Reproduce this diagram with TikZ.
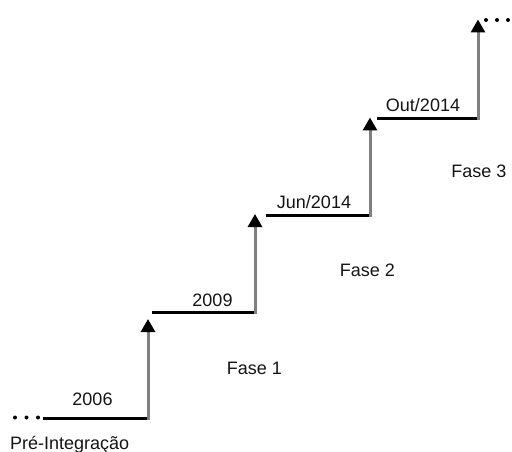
\documentclass[tikz,border=0pt]{standalone}
\usepackage{fontspec}
\setmainfont{Liberation Sans}
\usetikzlibrary{arrows.meta}
\definecolor{riser}{HTML}{808080}
\definecolor{txt}{HTML}{141414}
\tikzset{
  tread/.style={draw=black, line width=3pt},
  riserline/.style={draw=riser, line width=3pt, -{Triangle[length=13pt,width=14pt,color=black]}},
  lbl/.style={inner sep=0pt, anchor=base, text=txt, font=\fontsize{18}{20}\selectfont},
  dotmark/.style={fill=black}
}
\begin{document}
\begin{tikzpicture}[x=1pt,y=-1pt]
\useasboundingbox (0,0) rectangle (512,452);
% coordinates of the staircase
\coordinate (s0) at (43,418);
\coordinate (c1) at (148,418);
\coordinate (t1) at (148,319);
\coordinate (s1) at (152,312);
\coordinate (c2) at (255,312);
\coordinate (t2) at (255,214);
\coordinate (s2) at (266,215);
\coordinate (c3) at (370,215);
\coordinate (t3) at (370,117.5);
\coordinate (s3) at (377,119);
\coordinate (c4) at (478,119);
\coordinate (t4) at (478,19.5);
% treads
\draw[tread] (s0) -- (c1);
\draw[tread] (s1) -- (c2);
\draw[tread] (s2) -- (c3);
\draw[tread] (s3) -- (c4);
% risers with arrows
\draw[riserline] ([yshift=-1.5pt]c1) -- (t1);
\draw[riserline] ([yshift=-1.5pt]c2) -- (t2);
\draw[riserline] ([yshift=-1.5pt]c3) -- (t3);
\draw[riserline] ([yshift=-1.5pt]c4) -- (t4);
% dots
\foreach \x in {15,26.5,38} \fill[dotmark] (\x,417.5) circle (2);
\foreach \x in {486,497,508} \fill[dotmark] (\x,20) circle (2);
% labels
\node[lbl] (y2006) at (92.5,405) {2006};
\node[lbl] (y2009) at (212.5,306.5) {2009};
\node[lbl] (jun) at (314,208) {Jun/2014};
\node[lbl] (out) at (423,112) {Out/2014};
\node[lbl] (f1) at (254.5,374) {Fase 1};
\node[lbl] (f2) at (367.5,276) {Fase 2};
\node[lbl] (f3) at (479,177) {Fase 3};
\node[lbl, anchor=base west] (pre) at (10,449) {Pré-Integração};
\end{tikzpicture}
\end{document}
